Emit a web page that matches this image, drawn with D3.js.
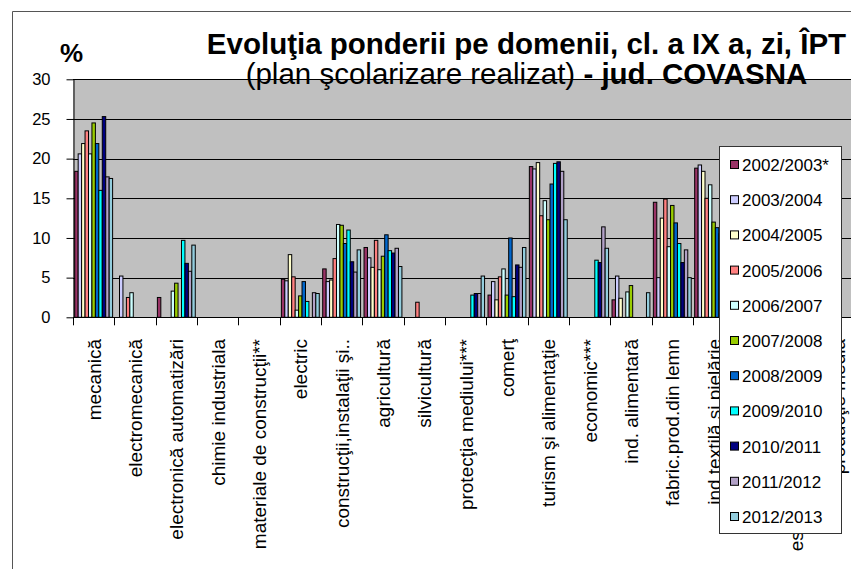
<!DOCTYPE html>
<html><head><meta charset="utf-8">
<script src="https://cdn.jsdelivr.net/npm/d3@7"></script>
<style>body{margin:0;background:#fff}svg{display:block;font-family:"Liberation Sans",Arial,sans-serif}</style>
</head><body><svg id="c" width="851" height="569"></svg>
<script>
const categories = ["mecanică","electromecanică","electronică automatizări","chimie industriala","materiale de construcţii**","electric","construcţii,instalaţii şi..","agricultură","silvicultură","protecţia mediului***","comerţ","turism şi alimentaţie","economic***","ind. alimentară","fabric.prod.din lemn","ind textilă şi pielărie","tehnici poligrafice","estetica şi igiena corpului","producţie media"];
const seriesNames = ["2002/2003*","2003/2004","2004/2005","2005/2006","2006/2007","2007/2008","2008/2009","2009/2010","2010/2011","2011/2012","2012/2013"];
const seriesColors = ["#993366","#CCCCFF","#FFFFCC","#FF8080","#CCFFFF","#99CC00","#0066CC","#00FFFF","#000080","#B2A1C7","#93CDDD"];
const yTicks = [0,5,10,15,20,25,30];

const v2002 = [18.4,0,2.5,0,0,4.8,6.1,8.8,0,0,2.8,19.0,0,2.2,14.5,18.8,1.5,2.1,0];
const v2003 = [20.6,5.2,0,0,0,4.6,4.5,7.5,0,0,4.5,18.7,0,5.2,5.0,19.2,1.4,2.4,0];
const v2004 = [21.9,0,0,0,0,7.9,4.7,6.3,0,0,2.2,19.5,0,2.4,12.5,18.4,1.1,2.2,0];
const v2005 = [23.5,2.5,0,0,0,5.1,7.4,9.7,1.9,0,5.1,12.8,0,0,14.9,15.0,0,3.1,0];
const v2006 = [20.6,3.1,3.3,0,0,0.9,11.7,6.0,0,0,6.1,14.7,0,3.2,8.9,16.7,0,2.9,0];
const v2007 = [24.5,0,4.3,0,0,2.7,11.6,7.7,0,0,2.8,12.3,0,4.0,14.1,12.0,0,3.6,1.3];
const v2008 = [21.9,0,0,0,0,4.5,9.3,10.4,0,0,10.0,16.8,0,0,11.9,11.3,0,3.3,0];
const v2009 = [16.0,0,9.7,0,0,2.0,11.0,8.4,0,2.8,2.6,19.4,7.2,0,9.3,10.5,0,4.1,0];
const v2010 = [25.3,0,6.8,0,0,0,7.0,8.1,0,3.0,6.6,19.6,6.9,0,6.9,9.4,0,3.8,0];
const v2011 = [17.7,0,5.8,0,0,3.1,5.7,8.7,0,3.0,6.3,18.4,11.4,0,8.5,8.8,0,4.4,0];
const v2012 = [17.5,0,9.1,0,0,3.0,8.5,6.4,0,5.2,8.8,12.3,8.7,3.1,5.0,7.6,0,4.2,0];
const seriesValues = [v2002,v2003,v2004,v2005,v2006,v2007,v2008,v2009,v2010,v2011,v2012];

const svg = d3.select("#c");
const L = 73, T = 79.3, B = 317.3, R = 73 + 19*41.33;

// chart border
svg.append("path").attr("d","M12.5,569 V11.5 H851").attr("fill","none").attr("stroke","#555").attr("stroke-width",1);

const x = d3.scaleBand().domain(categories).range([L,R]).padding(0);
const xi = d3.scaleBand().domain(d3.range(seriesNames.length)).range([0,x.bandwidth()]).paddingInner(0).paddingOuter(0.5);
const y = d3.scaleLinear().domain([0,30]).range([B,T]);

svg.append("rect").attr("x",L).attr("y",T).attr("width",R-L).attr("height",B-T).attr("fill","#C0C0C0");
svg.append("g").selectAll("line").data(yTicks.slice(1)).join("line")
  .attr("x1",L).attr("x2",R).attr("y1",d=>Math.round(y(d))+0.5).attr("y2",d=>Math.round(y(d))+0.5)
  .attr("stroke","#000").attr("stroke-width",1);

const bars = [];
seriesValues.forEach((arr,s)=>arr.forEach((v,c)=>{ if(v>0) bars.push({s,c,v}); }));
svg.append("g").selectAll("rect").data(bars).join("rect")
  .attr("x",d=>x(categories[d.c])+xi(d.s))
  .attr("width",xi.bandwidth())
  .attr("y",d=>y(d.v))
  .attr("height",d=>B-y(d.v))
  .attr("fill",d=>seriesColors[d.s])
  .attr("stroke","#000").attr("stroke-width",1);

// y axis
const ya = svg.append("g").attr("transform",`translate(${L+0.5},0)`)
  .call(d3.axisLeft(y).tickValues(yTicks).tickSize(7).tickPadding(16).tickSizeOuter(0));
ya.select(".domain").attr("stroke","#000");
ya.selectAll("line").attr("stroke","#000");
ya.selectAll("text").attr("font-size","16.5px").attr("fill","#000").attr("font-family","Liberation Sans, Arial, sans-serif");

// x axis
const xa = svg.append("g");
xa.append("line").attr("x1",L).attr("x2",R).attr("y1",Math.round(B)+0.5).attr("y2",Math.round(B)+0.5).attr("stroke","#000");
xa.selectAll("line.t").data(categories.concat([null])).join("line").attr("class","t")
  .attr("x1",(d,i)=>Math.round(L+i*x.step())+0.5).attr("x2",(d,i)=>Math.round(L+i*x.step())+0.5)
  .attr("y1",B).attr("y2",B+8).attr("stroke","#000");
xa.selectAll("text").data(categories).join("text")
  .attr("transform",d=>`translate(${x(d)+x.bandwidth()/2+7},339) rotate(-90)`)
  .attr("text-anchor","end").attr("font-size","19px").attr("fill","#000").text(d=>d);

// titles
svg.append("text").attr("x",60).attr("y",62).attr("font-size","26px").attr("font-weight","bold").text("%");
svg.append("text").attr("x",526.5).attr("y",54).attr("text-anchor","middle").attr("font-size","29.5px").attr("font-weight","bold")
  .text("Evoluţia ponderii pe domenii, cl. a IX a, zi, ÎPT");
const t2 = svg.append("text").attr("x",526.5).attr("y",84).attr("text-anchor","middle").attr("font-size","29.5px");
t2.append("tspan").text("(plan şcolarizare realizat)");
t2.append("tspan").attr("font-weight","bold").text(" - jud. COVASNA");

// legend
const lg = svg.append("g");
lg.append("rect").attr("x",719.5).attr("y",146.5).attr("width",122).attr("height",387).attr("fill","#fff").attr("stroke","#333");
const items = lg.selectAll("g").data(seriesNames).join("g").attr("transform",(d,i)=>`translate(0,${165+i*35.2})`);
items.append("rect").attr("x",730.5).attr("y",-4.5).attr("width",8).attr("height",8).attr("fill",(d,i)=>seriesColors[i]).attr("stroke","#000");
items.append("text").attr("x",742).attr("y",6).attr("font-size","17px").attr("fill","#000").text(d=>d);
</script></body></html>
